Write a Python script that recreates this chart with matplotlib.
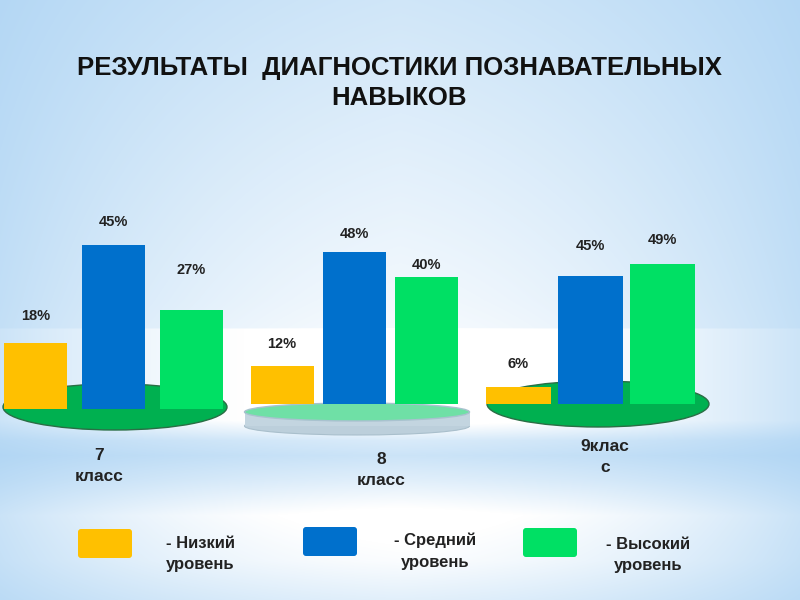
import numpy as np
import matplotlib
matplotlib.use('Agg')
import matplotlib.pyplot as plt
from matplotlib.patches import Ellipse, Rectangle, FancyBboxPatch

plt.rcParams['font.family'] = ['Liberation Sans', 'DejaVu Sans']

title_lines = ["РЕЗУЛЬТАТЫ  ДИАГНОСТИКИ ПОЗНАВАТЕЛЬНЫХ", "НАВЫКОВ"]
classes = ["7\nкласс", "8\nкласс", "9клас\nс"]
levels = ["- Низкий\nуровень", "- Средний\nуровень", "- Высокий\nуровень"]
colors = ["#ffc000", "#0070cc", "#00e064"]

# percentages per class: low, middle, high
low = [18, 12, 6]
middle = [45, 48, 45]
high = [27, 40, 49]

# layout of each small chart on the slide (pixels): left, right, baseline, px per %
groups = [
    (-3.5, 230.5, 409, 3.65),
    (246, 462, 404, 3.17),
    (482.5, 698.5, 404, 2.85),
]
bar_w = [0.81, 0.875, 0.89]
# label gap above bar top (px)
gaps = [(27, 23, 40), (22, 18, 12), (23, 30, 24)]

W, H = 800, 600
fig = plt.figure(figsize=(8, 6), dpi=100)

# background
ax_bg = fig.add_axes([0, 0, 1, 1])
yy = np.arange(H)
xx = np.arange(W)
v = np.interp(yy, [0, 150, 300, 327, 329, 420, 440, 455, 480, 515, 560, 600],
              [0.3, 0.5, 0.7, 0.75, 1.0, 1.0, 0.4, 0.25, 0.5, 0.95, 0.8, 0.5])
hx = 1 - ((xx - 400) / 400.0) ** 2 * 0.6
w = np.clip(v[:, None] * hx[None, :] + 0.15 * (1 - np.abs(xx - 400)[None, :] / 400.0), 0, 1)
blue = np.array([170, 210, 243]) / 255.0
img = blue[None, None, :] * (1 - w[..., None]) + w[..., None]
ax_bg.imshow(img, extent=(0, W, H, 0), aspect='auto')
ax_bg.set_xlim(0, W)
ax_bg.set_ylim(H, 0)
ax_bg.axis('off')

# platforms under the bars
ax_bg.add_patch(Ellipse((115, 407), 224, 46, fc="#00b050", ec="#2a6e45", lw=1))
ax_bg.add_patch(Ellipse((357, 426), 225, 18, fc="#bccfdb", ec="#a9bfcc", lw=0.8))
ax_bg.add_patch(Rectangle((244.5, 412), 225, 14, fc="#c3d5e0", ec="none"))
ax_bg.add_patch(Ellipse((357, 412), 225, 18, fc="#6fe0a6", ec="#a9c2cf", lw=1))
ax_bg.add_patch(Ellipse((598, 404), 222, 46, fc="#00b050", ec="#2a6e45", lw=1))

# title
fig.text(399 / W, 1 - 68 / H, title_lines[0], ha='center', va='center',
         fontsize=18.5, fontweight='bold', color='#111111')
fig.text(399 / W, 1 - 98 / H, title_lines[1], ha='center', va='center',
         fontsize=18.5, fontweight='bold', color='#111111')

# bars
for g, (left, right, base, scale) in enumerate(groups):
    top = 180
    ax = fig.add_axes([left / W, (H - base) / H, (right - left) / W, (base - top) / H])
    ax.patch.set_alpha(0)
    vals = [low[g], middle[g], high[g]]
    ax.bar(range(3), vals, width=bar_w[g], color=colors)
    ax.set_xlim(-0.5, 2.5)
    ax.set_ylim(0, (base - top) / scale)
    ax.axis('off')
    for i, val in enumerate(vals):
        ax.annotate("{}%".format(val), (i, val), xytext=(0, gaps[g][i] * 0.72),
                    textcoords='offset points', ha='center', va='center',
                    fontsize=10.5, fontweight='bold', color='#222222')

# class labels
class_pos = [(99, 466), (381, 470), (605, 457)]
for txt, (x, y) in zip(classes, class_pos):
    fig.text(x / W, 1 - y / H, txt, ha='center', va='center', fontsize=12.5,
             fontweight='bold', color='#222222', linespacing=1.5)

# legend
sw_pos = [(78, 529), (303, 527), (523, 528)]
txt_pos = [(200, 554), (435, 551), (648, 555)]
for c, lab, (x, y), (tx, ty) in zip(colors, levels, sw_pos, txt_pos):
    ax_bg.add_patch(FancyBboxPatch((x + 3, y + 3), 48, 23,
                                   boxstyle="round,pad=3", fc=c, ec="none"))
    fig.text(tx / W, 1 - ty / H, lab, ha='center', va='center', fontsize=12,
             fontweight='bold', color='#222222', linespacing=1.55)

plt.savefig("out.png", dpi=100)
